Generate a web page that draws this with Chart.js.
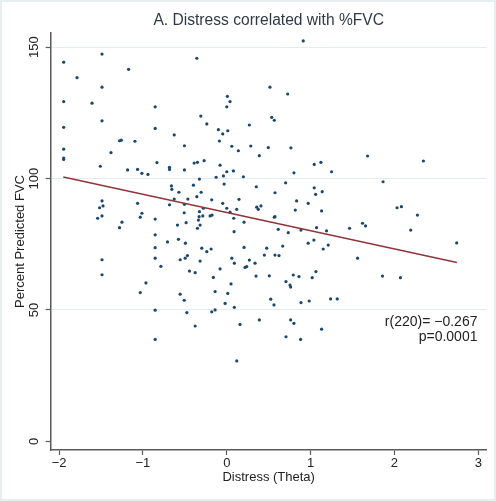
<!DOCTYPE html>
<html lang="en">
<head>
  <meta charset="UTF-8">
  <title>Distress correlated with %FVC</title>
  <script src="https://cdn.jsdelivr.net/npm/chart.js@4.4.1/dist/chart.umd.min.js"></script>
  <style>
    html, body { margin: 0; padding: 0; background: #fff; }
    .wrap { position: relative; width: 496px; height: 501px; }
    .frame { position: absolute; left: 0; top: 0; right: 0; bottom: 0; border: 2px solid #e6eef0; pointer-events: none; }
  </style>
</head>
<body>
  <div class="wrap">
    <canvas id="fvcChart"></canvas>
    <div class="frame"></div>
  </div>

  <script>
    // values (distress theta vs % predicted FVC)
    const distress = [
      -1.945, -1.488, -1.786, -1.488, -1.945, -1.607, -1.945, -1.488, -1.279, -1.258, -1.945, -1.381, -1.945, -1.945, -1.508, -1.171, -0.357, -0.854, -0.854, -0.627, -1.095, -0.505,
      -0.833, -1.183, -1.064, -1.012, -0.940, -0.683, -0.683, -0.505, -0.389, -0.350, -0.080, 0, -0.040, -0.127, -0.326, -0.660, -0.655, -0.571, -0.398, -0.306, -0.357, -0.627, -0.464, -1.064, -0.683, -0.505, -0.179, -0.279, -0.326, -0.508, -1.012, -1.032, -0.854, -0.330, -0.286, -0.199, -0.175, -0.338, -0.485, -0.588, -1.25, -0.318, -0.350, -0.854, -0.576, -0.707, -0.493, 0, -0.032, -0.048,
      0.912, 0.515, 0.726, 0.007, 0.039, 0, -0.310, -0.238, 0.536, 0.567, 0.269, -0.100, -0.048, 0.012, -0.088, 0.060, 0.286, 0.138, 0.495, 0.765, 0.388, -0.270,
      1.043, 1.123, 1.25, 0.801, 0.079, 0.198, 0.702, 0.352, 0.575, 1.043, 1.060, 1.138, 0.146, 0.833, 0.971, 0.357, 0.376, 0.408, 0.817, 1.131, 0.119, 0.039, 0.567, 0.575, 0.083, 0.206, 0.614, 0.733, 0.885, 1.071, 1.190, 0.087, 0.971, 1.039, 1.150, 1.210,
      -0.298, -0.238, -0.187, 0.060, 0.090, -0.318, -0.080, -0.377, -0.160, 0.051, -0.139, 0.012, -0.020, 0.090, -0.179, -0.139, 0.206, 0.349, 0.507, 0.448, 0.476, 0.575, 0.623, 0.667, 0.337, 0.269, 0.238, 0.218, 0.706, 0.754, 0.762, 0.793, 0.861, 1.019, 1.063, 0.524, 0.563, 0.885, 0.983, 1.238, 1.317, 0.388, 0.762, 0.801, 0.158, 0.706, 0.881, 1.131, 0.119, -0.377,
      -1.488, -1.517, -1.476, -1.540, -1.488, -1.279, -1.488, -1.488, -0.854, -0.854, -0.786, -0.964, -1.032, -0.556, -0.496, -0.469, -0.445, -0.556, -0.508, -0.854, -0.476, -0.854,
      1.679, 2.345, 1.864, 2.031, 2.083, 2.274, 1.464, 1.619, 1.655, 2.194, 2.742, 1.560, 1.857, 2.071
    ];
    const fvc = [
      144.3, 147.4, 138.4, 134.8, 129.3, 128.7, 119.5, 122.0, 114.4, 114.6, 111.2, 109.9, 107.8, 107.3, 104.7, 141.6, 145.8, 127.3, 119.1, 116.6, 114.2, 112.5,
      106.1, 103.3, 103.5, 102.0, 101.6, 104.3, 103.5, 103.3, 105.9, 106.2, 105.1, 102.6, 101.0, 100.5, 99.8, 97.2, 95.9, 94.8, 97.5, 94.8, 93.1, 92.2, 92.2, 90.6, 90.0, 90.2, 91.9, 88.7, 87.4, 87.0, 86.8, 85.3, 84.6, 85.5, 85.8, 85.8, 86.1, 84.2, 83.2, 82.3, 83.4, 82.3, 81.1, 78.6, 76.9, 75.9, 75.4, 88.7, 97.9, 90.6,
      152.4, 134.8, 132.2, 131.3, 129.3, 127.3, 123.8, 120.8, 123.3, 122.2, 120.4, 118.6, 117.0, 118.2, 114.3, 112.3, 112.4, 110.6, 111.8, 111.7, 108.7, 106.8,
      105.4, 106.2, 102.6, 102.2, 102.9, 100.7, 98.4, 96.9, 94.6, 96.5, 94.0, 95.0, 92.1, 91.5, 90.6, 89.1, 88.3, 89.6, 88.0, 87.7, 88.3, 87.2, 85.3, 85.5, 84.9, 83.4, 80.7, 79.4, 80.4, 81.3, 80.1, 79.8, 75.4, 76.6, 73.2, 74.7,
      73.5, 72.2, 73.2, 69.7, 67.8, 68.6, 65.6, 64.2, 62.4, 59.9, 57.0, 56.3, 52.5, 51.0, 49.3, 50.0, 73.8, 62.9, 63.0, 70.9, 73.5, 70.9, 70.7, 74.3, 67.8, 69.0, 66.5, 66.2, 60.8, 59.5, 58.7, 63.3, 62.7, 62.3, 64.6, 54.1, 51.9, 52.8, 53.4, 54.2, 54.2, 46.2, 46.2, 44.9, 44.5, 39.8, 38.8, 42.7, 30.6, 43.9,
      91.5, 88.9, 89.6, 84.9, 85.8, 81.3, 69.1, 63.4, 73.7, 69.7, 66.6, 60.3, 56.6, 69.1, 69.7, 70.7, 64.8, 56.0, 53.7, 49.9, 49.0, 38.8,
      108.6, 106.7, 98.8, 88.9, 89.3, 86.1, 81.1, 83.0, 82.0, 80.4, 75.5, 69.7, 62.9, 62.3
    ];
    // fitted line end points
    const fitDistress = [-1.95, 2.745];
    const fitFvc = [100.6, 68.1];
    const xTickValues = [-2, -1, 0, 1, 2, 3];
    const yTickValues = [0, 50, 100, 150];
    const statLines = ['r(220)= \u22120.267', 'p=0.0001'];

    const axisColor = '#5b5b5b';
    const textColor = '#222';
    Chart.defaults.font.family = '"Liberation Sans", Arial, Helvetica, sans-serif';
    Chart.defaults.color = textColor;

    function minusLabel(v) {
      return v < 0 ? '\u2212' + Math.abs(v) : String(v);
    }

    // r / p text in the lower right of the plot
    const statsText = {
      id: 'statsText',
      afterDatasetsDraw(chart) {
        const { ctx, scales: { x, y } } = chart;
        ctx.save();
        ctx.font = '14px "Liberation Sans", Arial, sans-serif';
        ctx.fillStyle = textColor;
        ctx.textAlign = 'right';
        ctx.textBaseline = 'middle';
        ctx.fillText(statLines[0], x.getPixelForValue(2.99), y.getPixelForValue(45.5));
        ctx.fillText(statLines[1], x.getPixelForValue(2.99), y.getPixelForValue(39.6));
        ctx.restore();
      }
    };

    new Chart(document.getElementById('fvcChart'), {
      type: 'scatter',
      data: {
        datasets: [
          {
            type: 'line',
            data: fitDistress.map((v, i) => ({ x: v, y: fitFvc[i] })),
            borderColor: '#90353b',
            borderWidth: 1.5,
            pointRadius: 0,
            fill: false
          },
          {
            data: distress.map((v, i) => ({ x: v, y: fvc[i] })),
            backgroundColor: '#1a476f',
            borderWidth: 0,
            pointRadius: 1.6
          }
        ]
      },
      options: {
        responsive: true,
        maintainAspectRatio: false,
        animation: false,
        layout: { padding: { left: 0, right: 9.3, top: 0, bottom: 0 } },
        plugins: {
          legend: { display: false },
          tooltip: { enabled: false },
          title: {
            display: true,
            text: 'A. Distress correlated with %FVC',
            fullSize: false,
            color: '#2f3a45',
            font: { size: 15.6, weight: 'normal' },
            padding: { top: 11, bottom: 3.3 }
          }
        },
        scales: {
          x: {
            type: 'linear',
            min: -2.1,
            max: 3.1,
            afterBuildTicks: s => { s.ticks = xTickValues.map(v => ({ value: v })); },
            afterFit: s => { s.height = 51; },
            ticks: { callback: minusLabel, font: { size: 13 }, color: textColor, padding: 1, maxRotation: 0, autoSkip: false },
            grid: { drawOnChartArea: false, tickLength: 5, tickColor: axisColor, tickWidth: 1.2 },
            border: { color: axisColor, width: 1.5 },
            title: { display: true, text: 'Distress (Theta)', font: { size: 13 }, color: textColor, padding: { top: 0, bottom: 16 } }
          },
          y: {
            type: 'linear',
            min: -3.3,
            max: 155.4,
            afterBuildTicks: s => { s.ticks = yTickValues.map(v => ({ value: v })); },
            afterFit: s => { s.width = 50.7; },
            ticks: { callback: minusLabel, font: { size: 13 }, color: textColor, minRotation: 90, maxRotation: 90, crossAlign: 'center', padding: 0, autoSkip: false },
            grid: {
              color: c => (c.tick && c.tick.value === 0) ? 'rgba(0,0,0,0)' : '#e4ecee',
              lineWidth: 1,
              tickLength: 5,
              tickColor: axisColor,
              tickWidth: 1.2
            },
            border: { color: axisColor, width: 1.5 },
            title: { display: true, text: 'Percent Predicted FVC', font: { size: 13 }, color: textColor, padding: { top: 12.2, bottom: 0 } }
          }
        }
      },
      plugins: [statsText]
    });
  </script>
</body>
</html>
